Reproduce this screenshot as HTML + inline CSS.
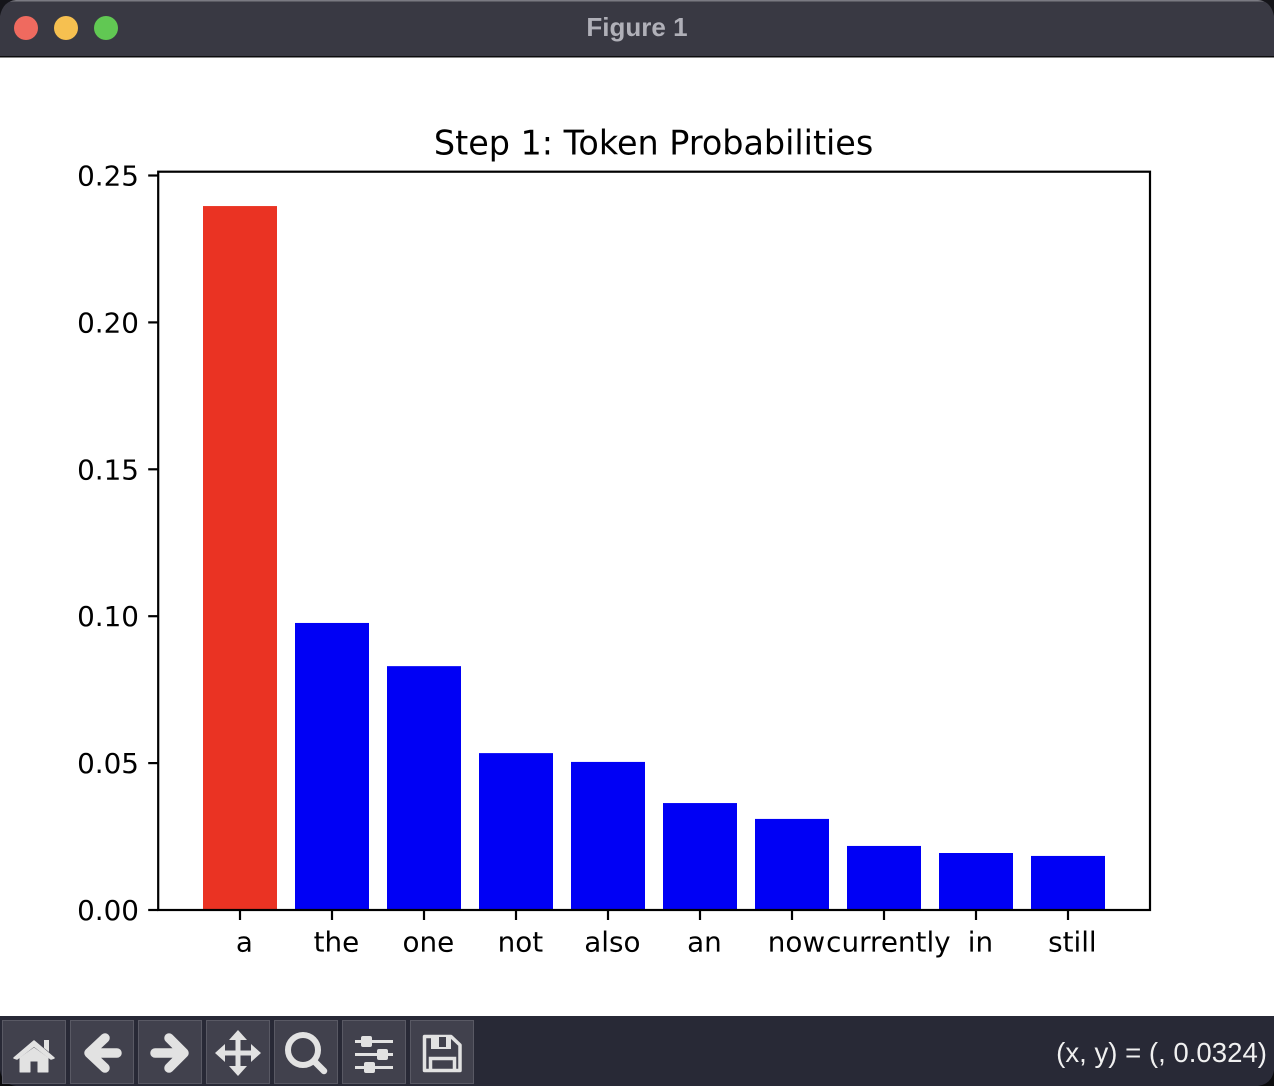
<!DOCTYPE html>
<html lang="en">
<head>
<meta charset="utf-8">
<title>Figure 1</title>
<style>
html,body{margin:0;padding:0;background:#fff;width:1274px;height:1086px;overflow:hidden}
#win{position:relative;width:1274px;height:1086px;background:#fff;overflow:hidden}
svg{position:absolute;left:0;top:0}
</style>
</head>
<body>
<div id="win">
<svg id="ui" width="1274" height="1086" viewBox="0 0 1274 1086" xmlns="http://www.w3.org/2000/svg">
  <rect x="0" y="0" width="1274" height="56" fill="#393943"/>
  <rect x="0" y="0" width="1274" height="1.5" fill="#7a7a82"/>
  <rect x="0" y="56" width="1274" height="1.5" fill="#0c0c0e"/>
  <path d="M0 0H16Q3 1 0 16Z" fill="#15151a"/>
  <path d="M1274 0H1258Q1271 1 1274 16Z" fill="#15151a"/>
  <circle cx="26" cy="28" r="12" fill="#ef6a5f"/>
  <circle cx="66" cy="28" r="12" fill="#f6c050"/>
  <circle cx="106" cy="28" r="12" fill="#61c853"/>
  <text x="637" y="36" text-anchor="middle" font-family="'Liberation Sans',sans-serif" font-weight="700" font-size="26" fill="#b0b0b8">Figure 1</text>

  <rect x="0" y="1016" width="1274" height="70" fill="#282936"/>
  <path d="M0 1070Q2 1084 16 1086H0Z" fill="#0c0c0e"/>
  <path d="M1274 1070Q1272 1084 1258 1086H1274Z" fill="#0c0c0e"/>

  <g>
    <rect x="2.5" y="1020.5" width="63" height="63" fill="#41414d" stroke="#595964"/>
    <path d="M14 1058L34 1041L54 1058L51 1059L34 1046L17 1059Z" fill="#e2e2e2" stroke="#e2e2e2" stroke-width="1.5" stroke-linejoin="round"/>
    <path d="M44 1040H49V1052L44 1048Z" fill="#e2e2e2"/>
    <path d="M20 1058L34 1048L48 1058V1072H38V1061H30V1072H20Z" fill="#e2e2e2" stroke="#e2e2e2" stroke-width="1" stroke-linejoin="round"/>
  </g>
  <g>
    <rect x="70.5" y="1020.5" width="63" height="63" fill="#41414d" stroke="#595964"/>
    <path d="M105 1038L89 1053L105 1068M90 1053H117" fill="none" stroke="#e2e2e2" stroke-width="9.5" stroke-linecap="round" stroke-linejoin="round"/>
  </g>
  <g>
    <rect x="138.5" y="1020.5" width="63" height="63" fill="#41414d" stroke="#595964"/>
    <path d="M169 1038L184 1053L169 1068M183 1053H155" fill="none" stroke="#e2e2e2" stroke-width="9.5" stroke-linecap="round" stroke-linejoin="round"/>
  </g>
  <g>
    <rect x="206.5" y="1020.5" width="63" height="63" fill="#41414d" stroke="#595964"/>
    <path d="M238 1040V1066M225 1053H251" stroke="#e2e2e2" stroke-width="5" fill="none"/>
    <path d="M238 1030L247 1040H229ZM238 1076L247 1066H229ZM215 1053L225 1044V1062ZM261 1053L251 1044V1062Z" fill="#e2e2e2"/>
  </g>
  <g>
    <rect x="274.5" y="1020.5" width="63" height="63" fill="#41414d" stroke="#595964"/>
    <circle cx="303" cy="1050" r="15" fill="none" stroke="#e2e2e2" stroke-width="6"/>
    <path d="M314 1061L324 1071" stroke="#e2e2e2" stroke-width="6.5" stroke-linecap="round"/>
  </g>
  <g>
    <rect x="342.5" y="1020.5" width="63" height="63" fill="#41414d" stroke="#595964"/>
    <path d="M355 1041.500H393M355 1054.500H393M355 1067.500H393" stroke="#e2e2e2" stroke-width="3"/>
    <rect x="361" y="1036" width="11" height="11" rx="2" fill="#e2e2e2"/>
    <rect x="377" y="1049" width="11" height="11" rx="2" fill="#e2e2e2"/>
    <rect x="364" y="1062" width="11" height="11" rx="2" fill="#e2e2e2"/>
  </g>
  <g>
    <rect x="410.5" y="1020.500" width="63" height="63" fill="#41414d" stroke="#595964"/>
    <path d="M424.500 1036.500H451L460 1045V1070.500H424.500Z" fill="none" stroke="#e2e2e2" stroke-width="3.500" stroke-linejoin="round"/>
    <path d="M431 1036H451V1049H431Z" fill="#e2e2e2"/>
    <rect x="439" y="1037" width="7" height="10" fill="#41414d"/>
    <path d="M430.500 1070V1058.500H454.500V1070" fill="none" stroke="#e2e2e2" stroke-width="3.500"/>
  </g>
  <text x="1267" y="1062" text-anchor="end" font-family="'Liberation Sans',sans-serif" font-size="27.6" fill="#f0f0f0">(x, y) = (, 0.0324)</text>
</svg>
<svg id="chart" width="1274" height="1086" viewBox="0 0 1274 1086" xmlns="http://www.w3.org/2000/svg"></svg>
</div>
<script>
const categories = ["a", "the", "one", "not", "also", "an", "now", "currently", "in", "still"];
const probabilities = [0.2396, 0.0977, 0.0830, 0.0534, 0.0504, 0.0364, 0.0310, 0.0218, 0.0194, 0.0184];
const highlighted = ["a"];
const yTicks = [0, 0.05, 0.10, 0.15, 0.20, 0.25];
const chartTitle = "Step 1: Token Probabilities";

const svg = document.getElementById('chart');
const NS = 'http://www.w3.org/2000/svg';
const FONT = "'DejaVu Sans',sans-serif";
const plot = {left: 158.2, right: 1150, top: 171.7, bottom: 910};
const pxPerUnit = 2938;
const firstCenter = 240;
const step = 92;
const barWidth = 74;

function xAxis(i) { return firstCenter + step * i; }
function yAxis(v) { return plot.bottom - v * pxPerUnit; }
function make(tag, attrs) {
  const el = document.createElementNS(NS, tag);
  for (const k in attrs) el.setAttribute(k, attrs[k]);
  return el;
}

categories.forEach(function (name, i) {
  const top = yAxis(probabilities[i]);
  const bar = make('rect', {x: xAxis(i) - barWidth / 2, y: top, width: barWidth, height: plot.bottom - top,
    fill: highlighted.includes(name) ? '#ea3323' : '#0000f5'});
  
  
  svg.appendChild(bar);

  const tick = make('line', {x1: xAxis(i), x2: xAxis(i), y1: plot.bottom, y2: plot.bottom + 10, stroke: '#000', 'stroke-width': 2.2});
  
  
  svg.appendChild(tick);

  const label = make('text', {x: xAxis(i) + 4.4, y: 951.6, 'text-anchor': 'middle', 'font-family': FONT, 'font-size': 27.8, fill: '#000'});
  label.textContent = name;
  
  
  svg.appendChild(label);
});

yTicks.forEach(function (v) {
  const y = yAxis(v);
  const tick = make('line', {x1: plot.left - 10, x2: plot.left, y1: y, y2: y, stroke: '#000', 'stroke-width': 2.2});
  
  
  svg.appendChild(tick);

  const label = make('text', {x: 139, y: y + 10, 'text-anchor': 'end', 'font-family': FONT, 'font-size': 27.8, fill: '#000'});
  label.textContent = v.toFixed(2);
  
  
  svg.appendChild(label);
});

const frame = make('rect', {x: plot.left, y: plot.top, width: plot.right - plot.left, height: plot.bottom - plot.top,
  fill: 'none', stroke: '#000', 'stroke-width': 2.2});


svg.appendChild(frame);

const title = make('text', {x: 653.6, y: 154.6, 'text-anchor': 'middle', 'font-family': FONT, 'font-size': 33.4, fill: '#000'});
title.textContent = chartTitle;


svg.appendChild(title);
</script>
</body>
</html>
